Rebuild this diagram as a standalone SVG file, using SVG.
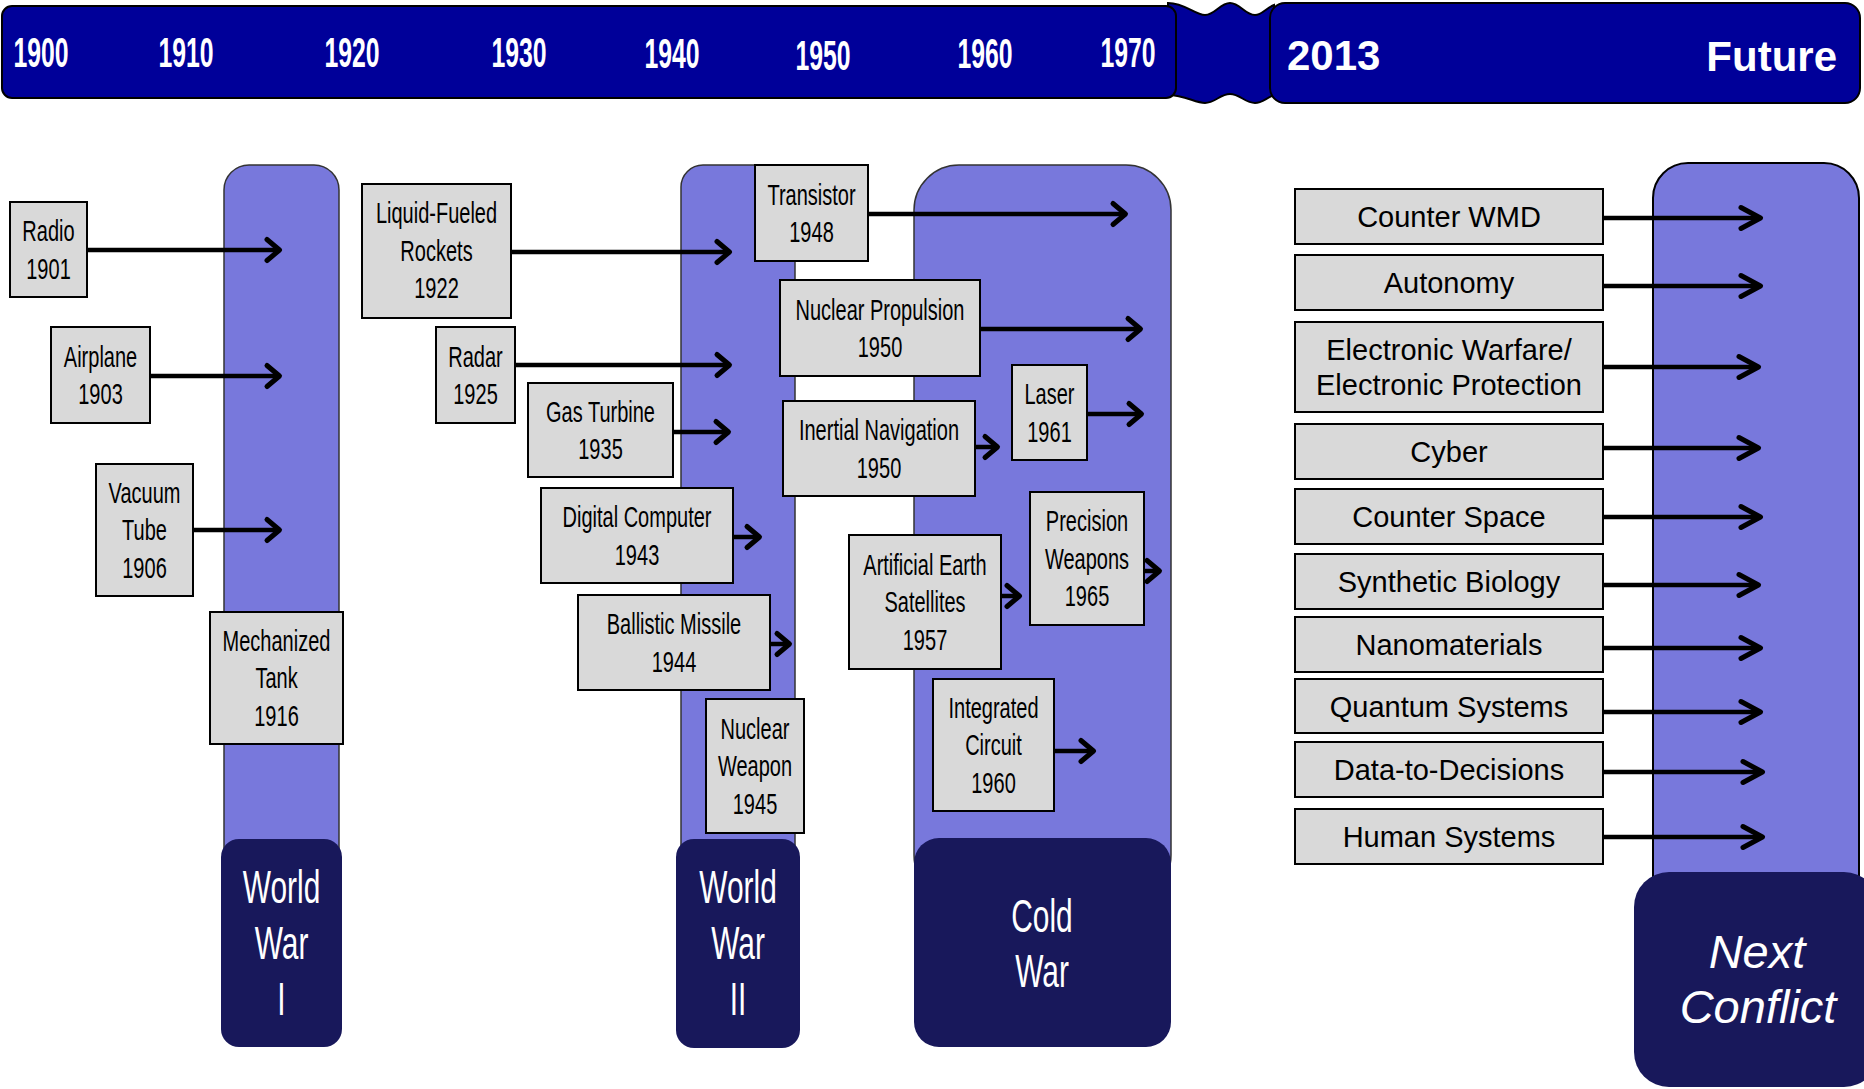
<svg xmlns="http://www.w3.org/2000/svg" width="1864" height="1089" viewBox="0 0 1864 1089">
<style>
.bar{fill:#000099;stroke:#000;stroke-width:2}
.yr{font-family:"Liberation Sans",Arial,sans-serif;font-weight:bold;font-size:42px;fill:#fff;text-anchor:middle}
.yr2{font-family:"Liberation Sans",Arial,sans-serif;font-weight:bold;font-size:42px;fill:#fff}
.col{fill:#7878DC;stroke:#333;stroke-width:1.5}
.dark{fill:#18185B}
.era{font-family:"Liberation Sans",Arial,sans-serif;font-size:46px;fill:#fff;text-anchor:middle}
.nxt{font-family:"Liberation Sans",Arial,sans-serif;font-style:italic;font-size:47px;fill:#fff;text-anchor:middle}
.box{fill:#D9D9D9;stroke:#000;stroke-width:2}
.n{font-family:"Liberation Sans",Arial,sans-serif;font-size:29px;fill:#000;text-anchor:middle}
.f{font-family:"Liberation Sans",Arial,sans-serif;font-size:29px;fill:#000;text-anchor:middle}
.ar{fill:none;stroke:#000;stroke-width:4.5}
.as{marker-end:url(#ahs)}
.al{marker-end:url(#ahl)}
</style>
<defs>
<marker id="ahs" markerUnits="userSpaceOnUse" markerWidth="30" markerHeight="30" viewBox="-20 -15 30 30" refX="0" refY="0" orient="auto" overflow="visible">
<path d="M-11,-10.5 L1.5,0 L-11,10.5" fill="none" stroke="#000" stroke-width="5" stroke-linecap="round" stroke-linejoin="round"/>
</marker>
<marker id="ahl" markerUnits="userSpaceOnUse" markerWidth="30" markerHeight="30" viewBox="-20 -15 30 30" refX="0" refY="0" orient="auto" overflow="visible">
<path d="M-18,-10.5 L1.5,0 L-18,10.5" fill="none" stroke="#000" stroke-width="5" stroke-linecap="round" stroke-linejoin="round"/>
</marker>
</defs>

<g id="timeline">
<path class="bar" d="M1168,3 C1185,3 1195,15 1205,15 C1215,15 1220,3 1230,3 C1240,3 1245,15 1255,15 C1262,15 1266,8 1274,5 L1274,95 C1266,98 1262,103 1255,103 C1245,103 1240,94 1230,94 C1220,94 1215,103 1205,103 C1195,103 1185,95 1168,95 Z"/>
<rect class="bar" x="2" y="6" width="1174" height="92" rx="10"/>
<rect class="bar" x="1270" y="3" width="590" height="100" rx="15"/>
<text class="yr" transform="translate(41 0) scale(0.59 1)" x="0" y="67">1900</text>
<text class="yr" transform="translate(186 0) scale(0.59 1)" x="0" y="67">1910</text>
<text class="yr" transform="translate(352 0) scale(0.59 1)" x="0" y="67">1920</text>
<text class="yr" transform="translate(519 0) scale(0.59 1)" x="0" y="67">1930</text>
<text class="yr" transform="translate(672 0) scale(0.59 1)" x="0" y="68">1940</text>
<text class="yr" transform="translate(823 0) scale(0.59 1)" x="0" y="70">1950</text>
<text class="yr" transform="translate(985 0) scale(0.59 1)" x="0" y="68">1960</text>
<text class="yr" transform="translate(1128 0) scale(0.59 1)" x="0" y="67">1970</text>
<text class="yr2" x="1287" y="70">2013</text>
<text class="yr2" x="1837" y="71" text-anchor="end">Future</text>
</g>

<g id="era-ww1">
<rect class="col" x="224" y="165" width="115" height="735" rx="25"/>
<rect class="dark" x="221" y="839" width="121" height="208" rx="18"/>
<text class="era" transform="translate(281.5 0) scale(0.65 1)"><tspan x="0" y="903">World</tspan><tspan x="0" y="959">War</tspan><tspan x="0" y="1015">I</tspan></text>
</g>
<g id="era-ww2">
<rect class="col" x="681" y="165" width="114" height="735" rx="22"/>
<rect class="dark" x="676" y="839" width="124" height="209" rx="18"/>
<text class="era" transform="translate(738 0) scale(0.65 1)"><tspan x="0" y="903">World</tspan><tspan x="0" y="959">War</tspan><tspan x="0" y="1015">II</tspan></text>
</g>
<g id="era-coldwar">
<rect class="col" x="914" y="165" width="257" height="735" rx="45"/>
<rect class="dark" x="914" y="838" width="257" height="209" rx="25"/>
<text class="era" transform="translate(1042 0) scale(0.65 1)"><tspan x="0" y="932">Cold</tspan><tspan x="0" y="987">War</tspan></text>
</g>
<g id="era-next">
<rect class="col" x="1653" y="163" width="206" height="760" rx="35" style="stroke:#000;stroke-width:2"/>
<rect class="dark" x="1634" y="872" width="245" height="215" rx="35"/>
<text class="nxt"><tspan x="1757" y="968">Next</tspan><tspan x="1758" y="1023">Conflict</tspan></text>
</g>

<g id="connectors">
<path class="ar as" d="M87,250 H278"/>
<path class="ar as" d="M150,376 H278"/>
<path class="ar as" d="M193,530 H278"/>
<path class="ar as" d="M511,252 H728"/>
<path class="ar as" d="M515,365 H728"/>
<path class="ar as" d="M673,432 H727"/>
<path class="ar as" d="M733,537 H758"/>
<path class="ar as" d="M770,644 H788"/>
<path class="ar as" d="M868,214 H1124"/>
<path class="ar as" d="M980,329 H1139"/>
<path class="ar as" d="M1087,414 H1140"/>
<path class="ar as" d="M975,447 H996"/>
<path class="ar as" d="M1144,571 H1158"/>
<path class="ar as" d="M1001,596 H1018"/>
<path class="ar as" d="M1054,751 H1092"/>
<path class="ar al" d="M1602,218 H1759"/>
<path class="ar al" d="M1602,286 H1759"/>
<path class="ar al" d="M1602,367 H1757"/>
<path class="ar al" d="M1602,448 H1757"/>
<path class="ar al" d="M1602,517 H1759"/>
<path class="ar al" d="M1602,585 H1757"/>
<path class="ar al" d="M1602,648 H1759"/>
<path class="ar al" d="M1602,712 H1759"/>
<path class="ar al" d="M1602,772 H1761"/>
<path class="ar al" d="M1602,837 H1761"/>
</g>

<g id="radio"><rect class="box" x="10" y="202" width="77" height="95"/>
<text class="n" transform="translate(48.5 0) scale(0.69 1)"><tspan x="0" y="241">Radio</tspan><tspan x="0" y="279">1901</tspan></text></g>
<g id="airplane"><rect class="box" x="51" y="327" width="99" height="96"/>
<text class="n" transform="translate(100.5 0) scale(0.69 1)"><tspan x="0" y="367">Airplane</tspan><tspan x="0" y="404">1903</tspan></text></g>
<g id="vacuum-tube"><rect class="box" x="96" y="464" width="97" height="132"/>
<text class="n" transform="translate(144.5 0) scale(0.69 1)"><tspan x="0" y="503">Vacuum</tspan><tspan x="0" y="540.5">Tube</tspan><tspan x="0" y="578">1906</tspan></text></g>
<g id="mechanized-tank"><rect class="box" x="210" y="612" width="133" height="132"/>
<text class="n" transform="translate(276.5 0) scale(0.69 1)"><tspan x="0" y="651">Mechanized</tspan><tspan x="0" y="688.5">Tank</tspan><tspan x="0" y="726">1916</tspan></text></g>
<g id="rockets"><rect class="box" x="362" y="184" width="149" height="134"/>
<text class="n" transform="translate(436.5 0) scale(0.69 1)"><tspan x="0" y="223.5">Liquid-Fueled</tspan><tspan x="0" y="261">Rockets</tspan><tspan x="0" y="298.5">1922</tspan></text></g>
<g id="radar"><rect class="box" x="436" y="327" width="79" height="96"/>
<text class="n" transform="translate(475.5 0) scale(0.69 1)"><tspan x="0" y="367">Radar</tspan><tspan x="0" y="404">1925</tspan></text></g>
<g id="gas-turbine"><rect class="box" x="528" y="383" width="145" height="94"/>
<text class="n" transform="translate(600.5 0) scale(0.69 1)"><tspan x="0" y="422">Gas Turbine</tspan><tspan x="0" y="459">1935</tspan></text></g>
<g id="digital-computer"><rect class="box" x="541" y="488" width="192" height="95"/>
<text class="n" transform="translate(637 0) scale(0.69 1)"><tspan x="0" y="527">Digital Computer</tspan><tspan x="0" y="565">1943</tspan></text></g>
<g id="ballistic-missile"><rect class="box" x="578" y="595" width="192" height="95"/>
<text class="n" transform="translate(674 0) scale(0.69 1)"><tspan x="0" y="634">Ballistic Missile</tspan><tspan x="0" y="672">1944</tspan></text></g>
<g id="nuclear-weapon"><rect class="box" x="706" y="699" width="98" height="134"/>
<text class="n" transform="translate(755 0) scale(0.69 1)"><tspan x="0" y="739">Nuclear</tspan><tspan x="0" y="776.5">Weapon</tspan><tspan x="0" y="814">1945</tspan></text></g>
<g id="transistor"><rect class="box" x="755" y="165" width="113" height="96"/>
<text class="n" transform="translate(811.5 0) scale(0.69 1)"><tspan x="0" y="205">Transistor</tspan><tspan x="0" y="242">1948</tspan></text></g>
<g id="nuclear-propulsion"><rect class="box" x="780" y="280" width="200" height="96"/>
<text class="n" transform="translate(880 0) scale(0.69 1)"><tspan x="0" y="320">Nuclear Propulsion</tspan><tspan x="0" y="357">1950</tspan></text></g>
<g id="inertial-navigation"><rect class="box" x="783" y="401" width="192" height="95"/>
<text class="n" transform="translate(879 0) scale(0.69 1)"><tspan x="0" y="440">Inertial Navigation</tspan><tspan x="0" y="478">1950</tspan></text></g>
<g id="laser"><rect class="box" x="1012" y="365" width="75" height="95"/>
<text class="n" transform="translate(1049.5 0) scale(0.69 1)"><tspan x="0" y="404">Laser</tspan><tspan x="0" y="442">1961</tspan></text></g>
<g id="precision-weapons"><rect class="box" x="1030" y="492" width="114" height="133"/>
<text class="n" transform="translate(1087 0) scale(0.69 1)"><tspan x="0" y="531.5">Precision</tspan><tspan x="0" y="569">Weapons</tspan><tspan x="0" y="606.5">1965</tspan></text></g>
<g id="satellites"><rect class="box" x="849" y="535" width="152" height="134"/>
<text class="n" transform="translate(925 0) scale(0.69 1)"><tspan x="0" y="575">Artificial Earth</tspan><tspan x="0" y="612.5">Satellites</tspan><tspan x="0" y="650">1957</tspan></text></g>
<g id="integrated-circuit"><rect class="box" x="933" y="679" width="121" height="132"/>
<text class="n" transform="translate(993.5 0) scale(0.69 1)"><tspan x="0" y="718">Integrated</tspan><tspan x="0" y="755.5">Circuit</tspan><tspan x="0" y="793">1960</tspan></text></g>

<g id="counter-wmd"><rect class="box" x="1295" y="189" width="308" height="55"/><text class="f" x="1449" y="227">Counter WMD</text></g>
<g id="autonomy"><rect class="box" x="1295" y="255" width="308" height="55"/><text class="f" x="1449" y="293">Autonomy</text></g>
<g id="ew-ep"><rect class="box" x="1295" y="322" width="308" height="90"/><text class="f"><tspan x="1449" y="360">Electronic Warfare/</tspan><tspan x="1449" y="395">Electronic Protection</tspan></text></g>
<g id="cyber"><rect class="box" x="1295" y="424" width="308" height="55"/><text class="f" x="1449" y="462">Cyber</text></g>
<g id="counter-space"><rect class="box" x="1295" y="489" width="308" height="55"/><text class="f" x="1449" y="527">Counter Space</text></g>
<g id="synthetic-biology"><rect class="box" x="1295" y="554" width="308" height="55"/><text class="f" x="1449" y="592">Synthetic Biology</text></g>
<g id="nanomaterials"><rect class="box" x="1295" y="617" width="308" height="55"/><text class="f" x="1449" y="655">Nanomaterials</text></g>
<g id="quantum-systems"><rect class="box" x="1295" y="679" width="308" height="54"/><text class="f" x="1449" y="716.5">Quantum Systems</text></g>
<g id="data-to-decisions"><rect class="box" x="1295" y="742" width="308" height="55"/><text class="f" x="1449" y="780">Data-to-Decisions</text></g>
<g id="human-systems"><rect class="box" x="1295" y="809" width="308" height="55"/><text class="f" x="1449" y="847">Human Systems</text></g>
</svg>
